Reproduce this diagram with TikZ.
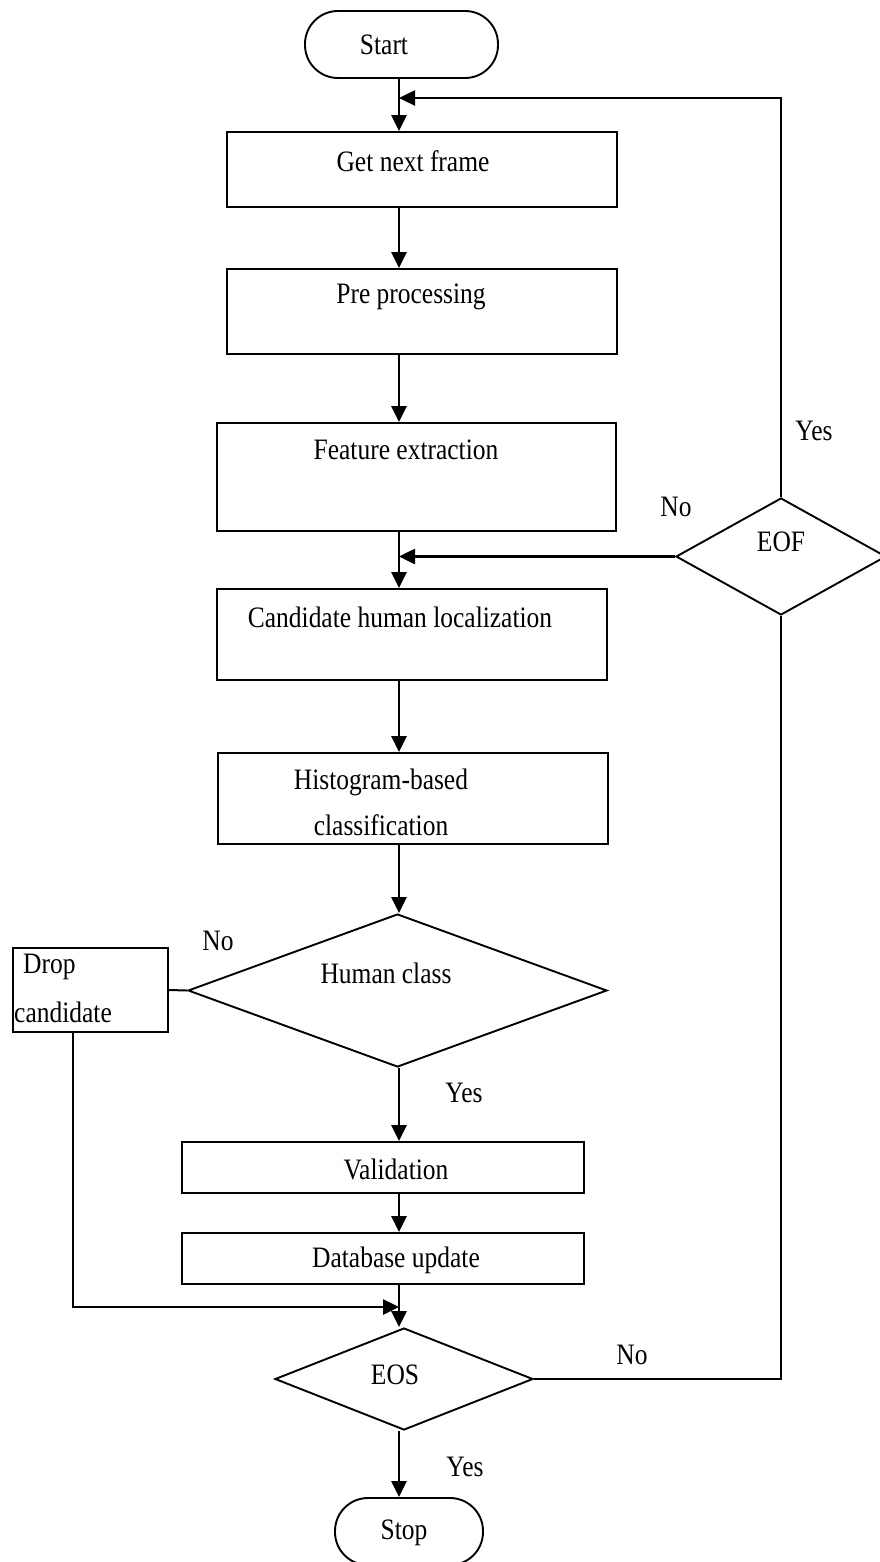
\documentclass[tikz,border=0pt]{standalone}
\usepackage{fontspec}
\usepackage{graphicx}
\setmainfont{Liberation Serif}
\usetikzlibrary{arrows.meta,shapes.geometric}
% tall, slightly condensed lettering
\newcommand{\tall}[1]{\scalebox{0.98}[1.14]{#1}}
\begin{document}
\begin{tikzpicture}[x=1pt,y=-1pt,
  box/.style={draw, line width=1.9pt, rectangle, inner sep=0pt},
  term/.style={draw, line width=1.9pt, rectangle, rounded corners=33pt, inner sep=0pt},
  dec/.style={draw, line width=1.9pt, diamond, aspect=1, inner sep=0pt},
  lbl/.style={inner sep=0pt, font=\fontsize{26}{30}\selectfont},
  tip/.style={-{Triangle[length=16pt,width=15pt]}},
  flow/.style={line width=2.8pt, tip},
  back/.style={line width=2pt},
]
\useasboundingbox (0,0) rectangle (879,1562);

% shapes
\node[term, minimum width=193pt, minimum height=67pt] (start) at (401.5,44.5) {};
\node[box, minimum width=390pt, minimum height=75pt] (gnf) at (422,169.5) {};
\node[box, minimum width=390pt, minimum height=85pt] (pre) at (422,311.5) {};
\node[box, minimum width=399pt, minimum height=108pt] (feat) at (416.5,477) {};
\node[box, minimum width=390pt, minimum height=91pt] (cand) at (412,634.5) {};
\node[box, minimum width=390pt, minimum height=91pt] (hist) at (413,798.5) {};
\node[dec, minimum width=419pt, minimum height=153pt] (hc) at (397.5,990.5) {};
\node[box, minimum width=155pt, minimum height=84pt] (drop) at (90.5,990) {};
\node[box, minimum width=402pt, minimum height=51pt] (val) at (383,1167.5) {};
\node[box, minimum width=402pt, minimum height=51pt] (db) at (383,1258.5) {};
\node[dec, minimum width=258pt, minimum height=102pt] (eos) at (404,1379) {};
\node[term, minimum width=148pt, minimum height=67pt] (stop) at (409,1531.5) {};
\node[dec, minimum width=210pt, minimum height=117pt] (eof) at (781,556.5) {};

% texts
\node[lbl] (startT) at (384,45) {\tall{Start}};
\node[lbl] (gnfT) at (413,161) {\tall{Get next frame}};
\node[lbl] (preT) at (411,297) {\tall{Pre processing}};
\node[lbl] (featT) at (406,450) {\tall{Feature extraction}};
\node[lbl] (candT) at (400,617) {\tall{Candidate human localization}};
\node[lbl, align=center, font=\fontsize{26}{46}\selectfont] (histT) at (381,802) {\tall{Histogram-based}\\\tall{classification}};
\node[lbl] (hcT) at (386,973) {\tall{Human class}};
\node[lbl, anchor=west] (dropA) at (23,967) {\tall{Drop}};
\node[lbl, anchor=west] (dropB) at (14,1012) {\tall{candidate}};
\node[lbl] (valT) at (396,1169) {\tall{Validation}};
\node[lbl] (dbT) at (396,1260) {\tall{Database update}};
\node[lbl] (eosT) at (395,1375) {\tall{EOS}};
\node[lbl] (eofT) at (781,542) {\tall{EOF}};
\node[lbl] (stopT) at (404,1533) {\tall{Stop}};

% branch labels
\node[lbl] (yes1) at (814,431) {\tall{Yes}};
\node[lbl] (no1) at (676,507) {\tall{No}};
\node[lbl] (no2) at (218,941) {\tall{No}};
\node[lbl] (yes2) at (464,1093) {\tall{Yes}};
\node[lbl] (no3) at (632,1355) {\tall{No}};
\node[lbl] (yes3) at (465,1467) {\tall{Yes}};

% helper coordinates
\coordinate (col) at (399,0);
\coordinate (rx) at (781,0);
\coordinate (top) at (0,98);
\coordinate (dx) at (73,0);
\coordinate (join) at (0,1307);

% main flow
\draw[flow] (col |- start.south) -- (col |- gnf.north);
\draw[flow] (col |- gnf.south) -- (col |- pre.north);
\draw[flow] (col |- pre.south) -- (col |- feat.north);
\draw[flow] (col |- feat.south) -- (col |- cand.north);
\draw[flow] (col |- cand.south) -- (col |- hist.north);
\draw[flow] (col |- hist.south) -- (col |- hc.north);
\draw[flow] (col |- hc.south) -- (col |- val.north);
\draw[flow] (col |- val.south) -- (col |- db.north);
\draw[flow] (col |- db.south) -- (col |- eos.north);
\draw[flow] (col |- eos.south) -- (col |- stop.north);

% end-of-frame loop
\draw[back] (eos.east) -- (rx |- eos.east) -- (eof.south);
\draw[back, line width=2.4pt, tip] (eof.north) -- (rx |- top) -- (col |- top);
\draw[line width=2.6pt, tip] (eof.west) -- (col |- eof.west);

% rejected candidates
\draw[back] (hc.west) -- (drop.east);
\draw[line width=2.6pt, tip] (dx |- drop.south) -- (dx |- join) -- (col |- join);
\end{tikzpicture}
\end{document}
